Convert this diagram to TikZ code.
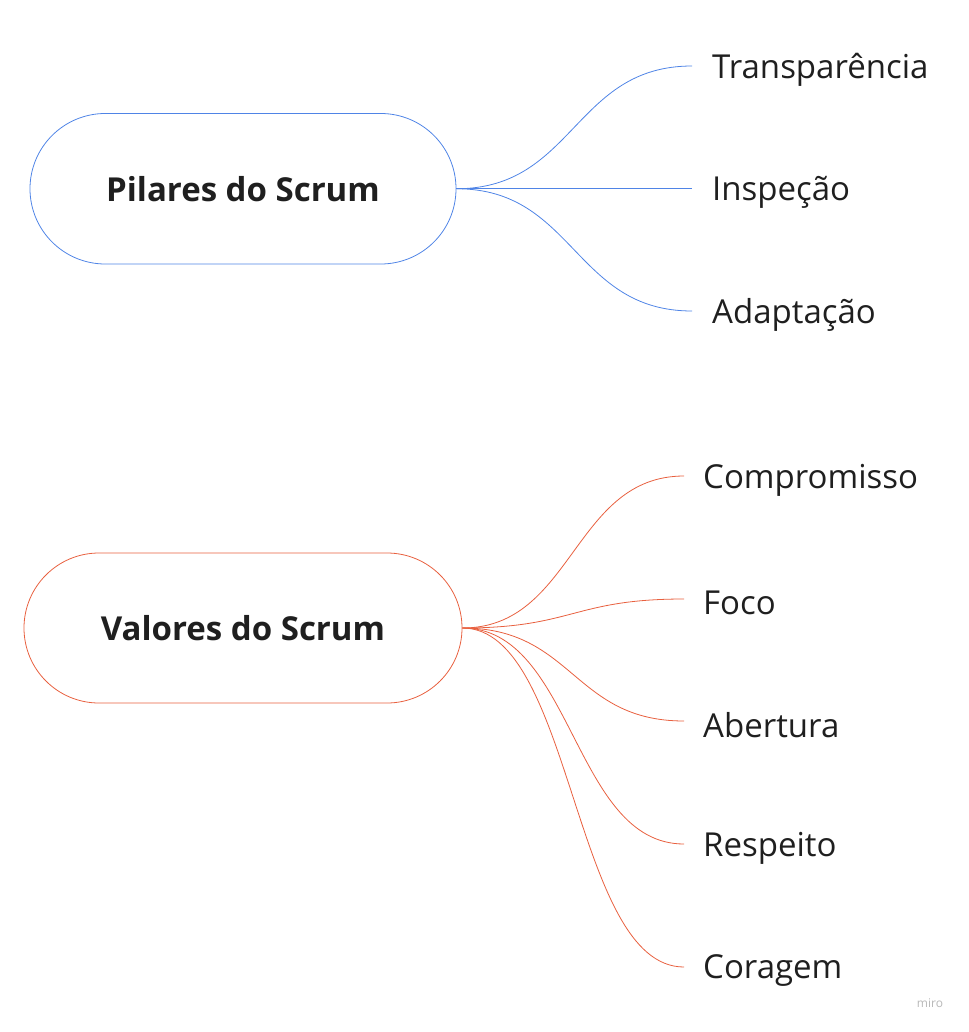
\documentclass[tikz,border=0pt]{standalone}
\usepackage{fontspec}
\setmainfont{Open Sans}
\usetikzlibrary{shapes.misc}
\definecolor{pblue}{HTML}{4F84E6}
\definecolor{pred}{HTML}{E8603F}
\definecolor{ink}{HTML}{1F1F1F}
\begin{document}
\begin{tikzpicture}[x=1pt,y=-1pt,
  rootbox/.style={rounded rectangle, line width=0.8pt, minimum height=150.5pt, inner sep=0pt, font=\fontsize{33}{38}\selectfont\bfseries, text=ink},
  leaf/.style={anchor=west, font=\fontsize{33}{38}\selectfont, text=ink, inner sep=0pt},
  bl/.style={draw=pblue, line width=0.8pt},
  rl/.style={draw=pred, line width=0.8pt}]
\useasboundingbox (0,0) rectangle (968,1032);
% top root
\node[rootbox, draw=pblue, minimum width=426pt] (p) at (243,188.75) {Pilares do Scrum};
\coordinate (t1) at (692,66);
\coordinate (t2) at (692,188.75);
\coordinate (t3) at (692,311);
\node[leaf] (l1) at (712,70) {Transparência};
\node[leaf] (l2) at (712,192.75) {Inspeção};
\node[leaf] (l3) at (712,315) {Adaptação};
\foreach \e in {t1,t2,t3}
  \draw[bl] (p.east) .. controls +(118,0) and +(-118,0) .. (\e);
% bottom root
\node[rootbox, draw=pred, minimum width=438pt, minimum height=150pt] (v) at (243,628) {Valores do Scrum};
\coordinate (r1) at (684,476);
\coordinate (r2) at (684,599);
\coordinate (r3) at (684,721);
\coordinate (r4) at (684,844);
\coordinate (r5) at (684,967);
\node[leaf] (m1) at (703,480) {Compromisso};
\node[leaf] (m2) at (703,603) {Foco};
\node[leaf] (m3) at (703,725) {Abertura};
\node[leaf] (m4) at (703,848) {Respeito};
\node[leaf] (m5) at (703,971) {Coragem};
\foreach \e in {r1,r2,r3,r4,r5}
  \draw[rl] (v.east) .. controls +(111,0) and +(-111,0) .. (\e);
\node[font=\fontsize{12}{14}\selectfont, text=black!28] (miro) at (930,1003) {miro};
\end{tikzpicture}
\end{document}
